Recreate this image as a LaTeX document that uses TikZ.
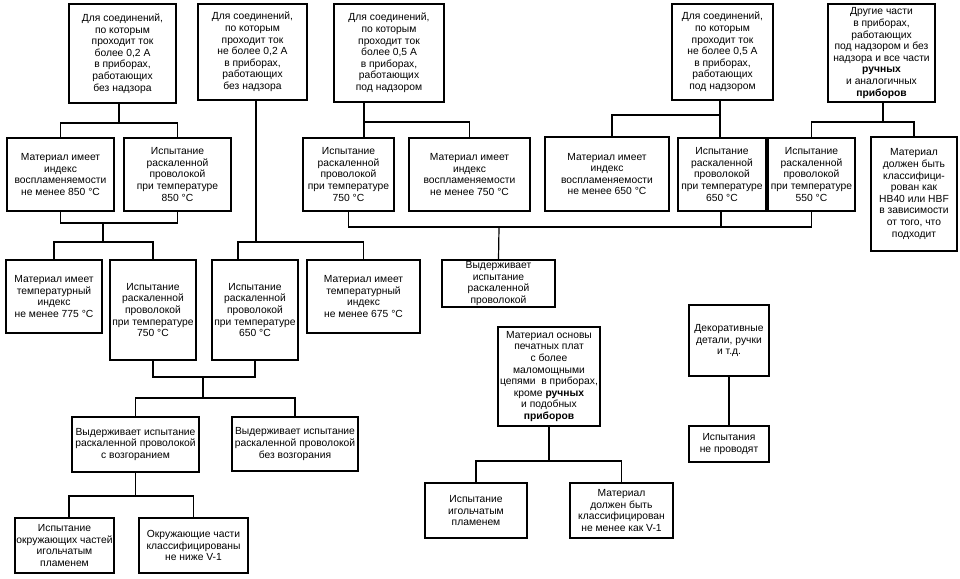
\documentclass[tikz,border=0pt]{standalone}
\usepackage{fontspec}
\setmainfont{Liberation Sans}
\tikzset{
  box/.style={draw, line width=1.2pt, align=center, inner sep=0.5pt,
    font=\fontsize{10.3}{11.6}\selectfont},
  wire/.style={line width=1.2pt}
}
\newcommand\bx[6]{\node[box, minimum width={(#4-#2)*1pt}, minimum height={(#5-#3)*1pt}] (#1) at ({(#2+#4)/2},{(#3+#5)/2}) {#6};}
\begin{document}
\begin{tikzpicture}[x=1pt,y=-1pt]
\useasboundingbox (0,0) rectangle (960,578);
% top row
\bx{A1}{69}{4}{176}{103}{Для соединений,\\по которым\\проходит ток\\более 0,2 А\\в приборах,\\работающих\\без надзора}
\bx{A2}{198}{4}{307}{100}{Для соединений,\\по которым\\проходит ток\\не более 0,2 А\\в приборах,\\работающих\\без надзора}
\bx{A3}{334}{4}{444}{102}{Для соединений,\\по которым\\проходит ток\\более 0,5 А\\в приборах,\\работающих\\под надзором}
\bx{A4}{672}{4}{773}{100}{Для соединений,\\по которым\\проходит ток\\не более 0,5 А\\в приборах,\\работающих\\под надзором}
\bx{A5}{828}{4}{935}{102}{Другие части\\в приборах,\\работающих\\под надзором и без\\надзора и все части\\\textbf{ручных}\\и аналогичных\\\textbf{приборов}}
% second row
\bx{B1}{7}{138}{114}{211}{Материал имеет\\индекс\\воспламеняемости\\не менее 850 °C}
\bx{B2}{124}{138}{231}{211}{Испытание\\раскаленной\\проволокой\\при температуре\\850 °C}
\bx{B3}{303}{138}{394}{211}{Испытание\\раскаленной\\проволокой\\при температуре\\750 °C}
\bx{B4}{409}{138}{530}{211}{Материал имеет\\индекс\\воспламеняемости\\не менее 750 °C}
\bx{B5}{545}{137}{669}{211}{Материал имеет\\индекс\\воспламеняемости\\не менее 650 °C}
\bx{B6}{678}{138}{766}{211}{Испытание\\раскаленной\\проволокой\\при температуре\\650 °C}
\bx{B7}{768}{138}{855}{211}{Испытание\\раскаленной\\проволокой\\при температуре\\550 °C}
\bx{B8}{871}{137}{957}{251}{Материал\\должен быть\\классифици-\\рован как\\HB40 или HBF\\в зависимости\\от того, что\\подходит}
% third row
\bx{C1}{6}{260}{102}{333}{Материал имеет\\температурный\\индекс\\не менее 775 °C}
\bx{C2}{110}{260}{196}{360}{Испытание\\раскаленной\\проволокой\\при температуре\\750 °C}
\bx{C3}{212}{260}{298}{360}{Испытание\\раскаленной\\проволокой\\при температуре\\650 °C}
\bx{C4}{307}{260}{420}{333}{Материал имеет\\температурный\\индекс\\не менее 675 °C}
\bx{F}{442}{260}{555}{307}{Выдерживает\\испытание\\раскаленной\\проволокой}
% lower rows
\bx{D1}{72}{417}{199}{472}{Выдерживает испытание\\раскаленной проволокой\\с возгоранием}
\bx{D2}{232}{417}{358}{471}{Выдерживает испытание\\раскаленной проволокой\\без возгорания}
\bx{E1}{15}{518}{114}{573}{Испытание\\окружающих частей\\игольчатым\\пламенем}
\bx{E2}{139}{518}{248}{573}{Окружающие части\\классифицированы\\не ниже V-1}
\bx{G}{498}{327}{600}{426}{Материал основы\\печатных плат\\с более\\маломощными\\цепями~ в приборах,\\кроме \textbf{ручных}\\и подобных\\\textbf{приборов}}
\bx{H1}{425}{483}{527}{538}{Испытание\\игольчатым\\пламенем}
\bx{H2}{570}{483}{673}{538}{Материал\\должен быть\\классифицирован\\не менее как V-1}
\bx{I1}{689}{305}{769}{376}{Декоративные\\детали, ручки\\и т.д.}
\bx{I2}{689}{426}{769}{462}{Испытания\\не проводят}
% tree 1
\coordinate (j1) at (119,123);
\draw[wire] (A1.south -| j1) -- (j1);
\draw[wire] (B1.north) |- (j1) -| (B2.north);
\coordinate (j2) at (103,223);
\coordinate (j3) at (103,242);
\draw[wire] (B1.south) |- (j2) -| (B2.south);
\draw[wire] (j2) -- (j3);
\draw[wire] (C1.north) |- (j3) -| (C2.north);
\coordinate (j4) at (256,242);
\draw[wire] (A2.south -| j4) -- (j4);
\draw[wire] ([xshift=-17pt]C3.north) |- (j4) -| (C4.north);
\coordinate (j5) at (203,377);
\coordinate (j6) at (203,398);
\draw[wire] (C2.south) |- (j5) -| (C3.south);
\draw[wire] (j5) -- (j6);
\draw[wire] (D1.north) |- (j6) -| (D2.north);
\coordinate (j7) at (135.5,496);
\draw[wire] (D1.south) -- (j7);
\draw[wire] ([xshift=4.5pt]E1.north) |- (j7) -| (E2.north);
% tree 2
\coordinate (k1) at (364,122);
\draw[wire] (A3.south -| k1) -- (k1) -- (k1 |- B3.north);
\draw[wire] (k1) -| (B4.north);
\coordinate (k2) at (720,115);
\draw[wire] (A4.south -| k2) -- (k2 |- B6.north);
\draw[wire] (k2) -| ([xshift=5pt]B5.north);
\coordinate (k3) at (883,122);
\draw[wire] (A5.south -| k3) -- (k3);
\draw[wire] (B7.north) |- (k3) -| (B8.north);
\coordinate (k4) at (499,227);
\draw[wire] (B3.south) |- (k4) -| (B7.south);
\draw[wire] ([xshift=-1pt]B6.south) -- ([xshift=-1pt]B6.south |- k4);
\draw[wire] (k4) -- (F.north);
% printed boards
\coordinate (k5) at (549,461);
\draw[wire] (G.south) -- (k5);
\draw[wire] (H1.north) |- (k5) -| (H2.north);
% decorative
\draw[wire] (I1.south) -- (I2.north);
\end{tikzpicture}
\end{document}
